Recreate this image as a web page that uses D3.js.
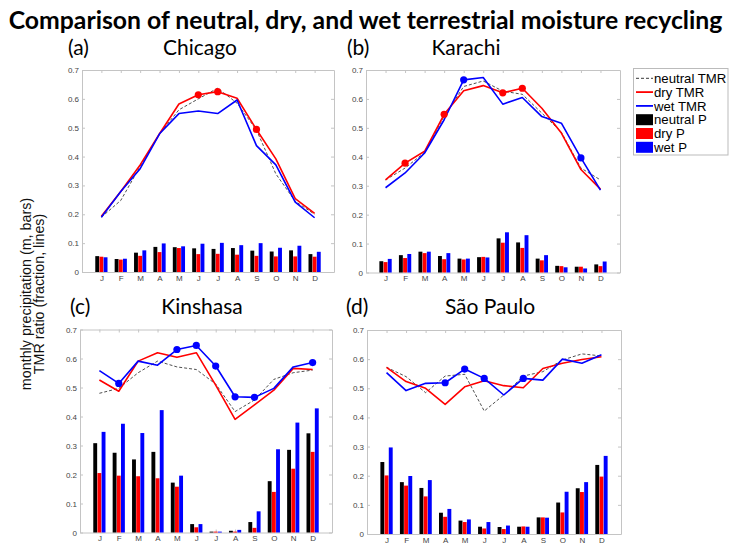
<!DOCTYPE html>
<html><head><meta charset="utf-8">
<script src="https://cdn.jsdelivr.net/npm/d3@7"></script>
<style>
html,body{margin:0;padding:0;background:#fff;}
svg{display:block;}
</style></head>
<body>
<svg id="chart" width="731" height="545"></svg>
<script>
// ---------- DATA ----------
const months = ["J","F","M","A","M","J","J","A","S","O","N","D"];
const yTicks = [0,0.1,0.2,0.3,0.4,0.5,0.6,0.7];
const seriesNames = ["neutral TMR","dry TMR","wet TMR","neutral P","dry P","wet P"];

// Chicago
const chicagoNeutralTMR = [0.190,0.248,0.366,0.479,0.562,0.600,0.637,0.585,0.492,0.340,0.245,0.200];
const chicagoDryTMR     = [0.193,0.279,0.371,0.479,0.582,0.614,0.625,0.602,0.494,0.392,0.254,0.203];
const chicagoWetTMR     = [0.190,0.279,0.358,0.479,0.549,0.558,0.549,0.596,0.438,0.371,0.242,0.188];
const chicagoNeutralP   = [0.055,0.045,0.067,0.087,0.086,0.082,0.080,0.083,0.074,0.071,0.075,0.062];
const chicagoDryP       = [0.053,0.043,0.056,0.069,0.083,0.062,0.063,0.060,0.056,0.054,0.054,0.053];
const chicagoWetP       = [0.051,0.046,0.075,0.099,0.089,0.098,0.101,0.093,0.100,0.084,0.091,0.070];
const chicagoDryMarks   = [5,6,8];
const chicagoWetMarks   = [];

// Karachi
const karachiNeutralTMR = [0.320,0.361,0.415,0.540,0.643,0.662,0.627,0.616,0.551,0.485,0.361,0.320];
const karachiDryTMR     = [0.320,0.378,0.419,0.547,0.628,0.646,0.621,0.637,0.568,0.482,0.356,0.288];
const karachiWetTMR     = [0.293,0.344,0.413,0.528,0.666,0.674,0.582,0.605,0.539,0.516,0.396,0.285];
const karachiNeutralP   = [0.039,0.060,0.072,0.057,0.048,0.053,0.118,0.104,0.048,0.023,0.020,0.028];
const karachiDryP       = [0.036,0.050,0.067,0.046,0.045,0.054,0.103,0.085,0.042,0.022,0.020,0.022];
const karachiWetP       = [0.047,0.064,0.072,0.067,0.048,0.052,0.139,0.129,0.060,0.018,0.014,0.038];
const karachiDryMarks   = [1,3,6,7];
const karachiWetMarks   = [4,10];

// Kinshasa
const kinshasaNeutralTMR = [0.480,0.497,0.551,0.591,0.571,0.562,0.512,0.417,0.457,0.528,0.551,0.560];
const kinshasaDryTMR     = [0.526,0.487,0.591,0.620,0.604,0.620,0.508,0.390,0.440,0.491,0.566,0.562];
const kinshasaWetTMR     = [0.558,0.514,0.591,0.577,0.631,0.645,0.574,0.468,0.466,0.497,0.571,0.586];
const kinshasaNeutralP   = [0.308,0.275,0.252,0.278,0.172,0.029,0.003,0.006,0.036,0.177,0.285,0.342];
const kinshasaDryP       = [0.205,0.196,0.194,0.187,0.158,0.018,0.003,0.003,0.016,0.140,0.220,0.278];
const kinshasaWetP       = [0.347,0.375,0.343,0.422,0.196,0.029,0.003,0.009,0.073,0.287,0.379,0.428];
const kinshasaDryMarks   = [];
const kinshasaWetMarks   = [1,4,5,6,7,8,11];

// São Paulo
const saoPauloNeutralTMR = [0.572,0.540,0.485,0.542,0.548,0.422,0.477,0.542,0.557,0.597,0.618,0.611];
const saoPauloDryTMR     = [0.572,0.523,0.500,0.445,0.505,0.526,0.509,0.502,0.568,0.586,0.599,0.608];
const saoPauloWetTMR     = [0.554,0.492,0.517,0.519,0.566,0.534,0.477,0.534,0.528,0.600,0.586,0.615];
const saoPauloNeutralP   = [0.247,0.178,0.158,0.073,0.046,0.025,0.024,0.025,0.057,0.108,0.157,0.237];
const saoPauloDryP       = [0.201,0.166,0.129,0.059,0.041,0.019,0.017,0.026,0.057,0.074,0.144,0.197];
const saoPauloWetP       = [0.297,0.199,0.185,0.086,0.050,0.041,0.029,0.025,0.056,0.145,0.178,0.268];
const saoPauloDryMarks   = [];
const saoPauloWetMarks   = [3,4,5,7];

// ---------- LAYOUT / STYLE ----------
const RED = "#ff0000", BLUE = "#0000ff", BLACK = "#000000";
const panels = [
  {tag:"(a)", name:"Chicago",   left:82,  right:334, top:70,    bottom:272,   tagX:68,  nameX:200, titleY:55,
   nT:chicagoNeutralTMR, dT:chicagoDryTMR, wT:chicagoWetTMR, nP:chicagoNeutralP, dP:chicagoDryP, wP:chicagoWetP, dM:chicagoDryMarks, wM:chicagoWetMarks},
  {tag:"(b)", name:"Karachi",   left:366, right:620, top:70,    bottom:272.5, tagX:347, nameX:466, titleY:55,
   nT:karachiNeutralTMR, dT:karachiDryTMR, wT:karachiWetTMR, nP:karachiNeutralP, dP:karachiDryP, wP:karachiWetP, dM:karachiDryMarks, wM:karachiWetMarks},
  {tag:"(c)", name:"Kinshasa",  left:80,  right:332, top:329.5, bottom:532.5, tagX:70,  nameX:202, titleY:314,
   nT:kinshasaNeutralTMR, dT:kinshasaDryTMR, wT:kinshasaWetTMR, nP:kinshasaNeutralP, dP:kinshasaDryP, wP:kinshasaWetP, dM:kinshasaDryMarks, wM:kinshasaWetMarks},
  {tag:"(d)", name:"São Paulo", left:367, right:621, top:330,   bottom:534,   tagX:346, nameX:490, titleY:314,
   nT:saoPauloNeutralTMR, dT:saoPauloDryTMR, wT:saoPauloWetTMR, nP:saoPauloNeutralP, dP:saoPauloDryP, wP:saoPauloWetP, dM:saoPauloDryMarks, wM:saoPauloWetMarks}
];

const svg = d3.select("#chart");
const AX = "#c4c4c4", TXT = "#444";
const tickFont = "Liberation Sans, Arial, sans-serif";

// Title: size chosen so its natural width fits the 716px the reference uses
const title = svg.append("text")
  .attr("x", 365.5).attr("y", 29)
  .attr("text-anchor","middle")
  .attr("font-family","Lato, 'Open Sans', sans-serif")
  .attr("font-weight","700")
  .attr("font-size", 26.5)
  .attr("fill","#000")
  .text("Comparison of neutral, dry, and wet terrestrial moisture recycling");
const tw = title.node().getComputedTextLength();
if (tw > 714) title.attr("font-size", 26.5 * 714 / tw);

// Y label
const yl = svg.append("g").attr("transform","translate(0,294) rotate(-90)");
yl.append("text").attr("x",0).attr("y",31).attr("text-anchor","middle")
  .attr("font-family",tickFont).attr("font-size",14.3).attr("fill","#111")
  .text("monthly precipitation (m, bars)");
yl.append("text").attr("x",0).attr("y",44).attr("text-anchor","middle")
  .attr("font-family",tickFont).attr("font-size",14.3).attr("fill","#111")
  .text("TMR ratio (fraction, lines)");

panels.forEach(p => {
  const x = d3.scaleLinear().domain([0,13]).range([p.left,p.right]);
  const y = d3.scaleLinear().domain([0,0.7]).range([p.bottom,p.top]);
  const g = svg.append("g");
  const step = x(1)-x(0);
  const monthIdx = d3.range(1,13);

  const styleAxis = sel => {
    sel.select(".domain").attr("stroke",AX);
    sel.selectAll(".tick line").attr("stroke",AX);
    sel.selectAll("text").attr("fill",TXT).attr("font-family",tickFont).attr("font-size",8);
  };
  g.append("g").attr("transform",`translate(${p.left},0)`)
    .call(d3.axisLeft(y).tickValues(yTicks).tickSize(-3).tickSizeOuter(0).tickPadding(3)
      .tickFormat(d => d===0 ? "0" : d3.format(".1f")(d)))
    .call(styleAxis);
  g.append("g").attr("transform",`translate(${p.right},0)`)
    .call(d3.axisRight(y).tickValues(yTicks).tickSize(-3).tickSizeOuter(0).tickFormat(""))
    .call(styleAxis);
  g.append("g").attr("transform",`translate(0,${p.bottom})`)
    .call(d3.axisBottom(x).tickValues(monthIdx).tickSize(-3).tickSizeOuter(0).tickPadding(3)
      .tickFormat(d => months[d-1]))
    .call(styleAxis);
  g.append("g").attr("transform",`translate(0,${p.top})`)
    .call(d3.axisTop(x).tickValues(monthIdx).tickSize(-3).tickSizeOuter(0).tickFormat(""))
    .call(styleAxis);

  // bars
  const bw = step*0.2;
  const barSeries = [{v:p.nP,c:BLACK,o:-0.215},{v:p.dP,c:RED,o:0},{v:p.wP,c:BLUE,o:0.215}];
  barSeries.forEach(s => {
    g.append("g").selectAll("rect").data(s.v).join("rect")
      .attr("x",(d,i)=>x(i+1)+s.o*step-bw/2)
      .attr("y",d=>y(d))
      .attr("width",bw)
      .attr("height",d=>y(0)-y(d))
      .attr("fill",s.c);
  });

  // lines
  const line = d3.line().x((d,i)=>x(i+1)).y(d=>y(d));
  g.append("path").datum(p.nT).attr("d",line).attr("fill","none")
    .attr("stroke","#222").attr("stroke-width",0.8).attr("stroke-dasharray","3,2");
  g.append("path").datum(p.dT).attr("d",line).attr("fill","none")
    .attr("stroke",RED).attr("stroke-width",1.6).attr("stroke-linejoin","round");
  g.append("path").datum(p.wT).attr("d",line).attr("fill","none")
    .attr("stroke",BLUE).attr("stroke-width",1.6).attr("stroke-linejoin","round");

  // markers
  g.append("g").selectAll("circle").data(p.dM).join("circle")
    .attr("cx",i=>x(i+1)).attr("cy",i=>y(p.dT[i])).attr("r",3.6).attr("fill",RED);
  g.append("g").selectAll("circle").data(p.wM).join("circle")
    .attr("cx",i=>x(i+1)).attr("cy",i=>y(p.wT[i])).attr("r",3.6).attr("fill",BLUE);

  // panel titles
  svg.append("text").attr("x",p.tagX).attr("y",p.titleY)
    .attr("font-family","Lato, 'Open Sans', sans-serif").attr("font-size",21).attr("fill","#000")
    .text(p.tag);
  svg.append("text").attr("x",p.nameX).attr("y",p.titleY).attr("text-anchor","middle")
    .attr("font-family","Lato, 'Open Sans', sans-serif").attr("font-size",21).attr("fill","#000")
    .text(p.name);
});

// Legend
const lg = svg.append("g");
lg.append("rect").attr("x",633.5).attr("y",68.5).attr("width",94.5).attr("height",86.5)
  .attr("fill","#fff").attr("stroke","#bbb").attr("stroke-width",1);
const legendItems = [
  {n:seriesNames[0], t:"line", c:"#222", dash:"3,2", w:0.9},
  {n:seriesNames[1], t:"line", c:RED, w:1.8},
  {n:seriesNames[2], t:"line", c:BLUE, w:1.8},
  {n:seriesNames[3], t:"rect", c:BLACK},
  {n:seriesNames[4], t:"rect", c:RED},
  {n:seriesNames[5], t:"rect", c:BLUE}
];
const ly = d3.scaleLinear().domain([0,5]).range([78.3,147.3]);
legendItems.forEach((it,i) => {
  const cy = ly(i);
  if (it.t === "line") {
    lg.append("line").attr("x1",636).attr("x2",653).attr("y1",cy).attr("y2",cy)
      .attr("stroke",it.c).attr("stroke-width",it.w).attr("stroke-dasharray",it.dash||null);
  } else {
    lg.append("rect").attr("x",636).attr("y",cy-5.5).attr("width",17).attr("height",11).attr("fill",it.c);
  }
  lg.append("text").attr("x",654).attr("y",cy).attr("dy","0.36em")
    .attr("font-family",tickFont).attr("font-size",13.2).attr("fill","#000").text(it.n);
});
</script>
</body></html>
